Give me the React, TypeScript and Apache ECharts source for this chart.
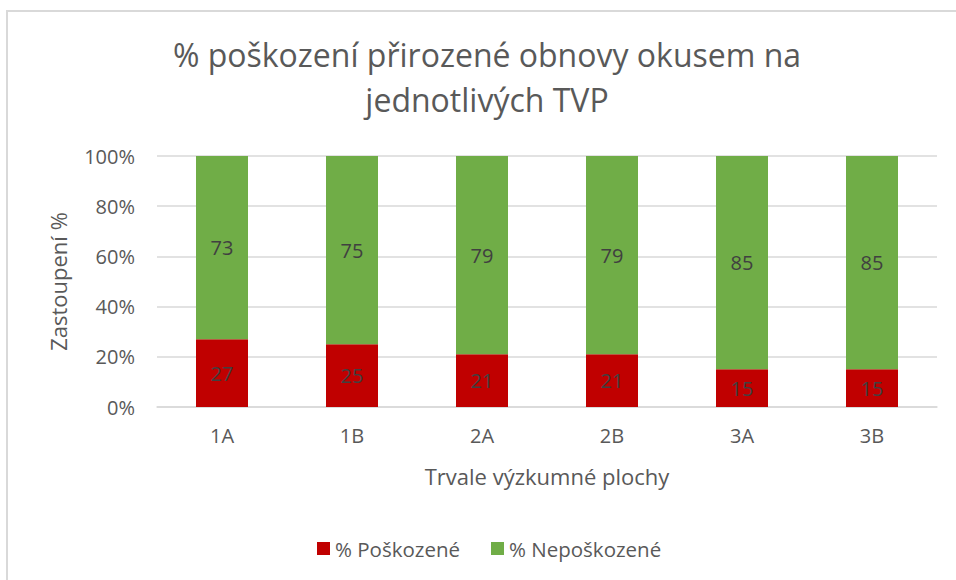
import React, { useEffect, useRef } from "react";
import * as echarts from "echarts";

const categories = ["1A", "1B", "2A", "2B", "3A", "3B"];
const damaged = [27, 25, 21, 21, 15, 15];
const undamaged = [73, 75, 79, 79, 85, 85];
const seriesNames = ["% Poškozené", "% Nepoškozené"];
const titleText = "% poškození přirozené obnovy okusem na\njednotlivých TVP";
const yAxisName = "Zastoupení %";
const xAxisName = "Trvale výzkumné plochy";

const FONT = "'Open Sans', sans-serif";

export default function App() {
  const ref = useRef<HTMLDivElement>(null);
  useEffect(() => {
    if (!ref.current) return;
    const chart = echarts.init(ref.current, undefined, { renderer: "svg" });
    const label = {
      show: true,
      position: "inside",
      color: "#404040",
      fontSize: 20,
      fontFamily: FONT,
    };
    chart.setOption({
      animation: false,
      backgroundColor: "#ffffff",
      graphic: [
        {
          type: "rect",
          shape: { x: 7, y: 11, width: 1000, height: 600 },
          style: { fill: "none", stroke: "#D9D9D9", lineWidth: 2 },
          silent: true,
        },
      ],
      title: {
        text: titleText,
        left: 482,
        top: 27,
        textAlign: "center",
        textStyle: {
          fontFamily: FONT,
          fontSize: 32,
          fontWeight: "normal",
          color: "#595959",
          lineHeight: 45,
        },
      },
      legend: {
        bottom: 16,
        left: 312,
        itemWidth: 13,
        itemHeight: 13,
        itemGap: 31,
        icon: "rect",
        textStyle: { fontFamily: FONT, fontSize: 20.5, color: "#595959" },
        data: seriesNames,
      },
      grid: { left: 157, right: 19, top: 156, bottom: 173 },
      xAxis: {
        type: "category",
        data: categories,
        name: xAxisName,
        nameLocation: "middle",
        nameGap: 58,
        nameTextStyle: { fontFamily: FONT, fontSize: 22, color: "#595959" },
        axisLine: { lineStyle: { color: "#D9D9D9", width: 1.5 } },
        axisTick: { show: false },
        axisLabel: { fontFamily: FONT, fontSize: 20, color: "#595959", margin: 18 },
      },
      yAxis: {
        type: "value",
        min: 0,
        max: 100,
        interval: 20,
        name: yAxisName,
        nameLocation: "middle",
        nameGap: 88,
        nameTextStyle: { fontFamily: FONT, fontSize: 22, color: "#595959" },
        axisLine: { show: false },
        axisTick: { show: false },
        axisLabel: {
          fontFamily: FONT,
          fontSize: 20,
          color: "#595959",
          margin: 22,
          formatter: "{value}%",
        },
        splitLine: { lineStyle: { color: "#D9D9D9", width: 1.5 } },
      },
      series: [
        {
          name: seriesNames[0],
          type: "bar",
          stack: "total",
          data: damaged,
          barWidth: "40%",
          itemStyle: { color: "#C00000" },
          label,
        },
        {
          name: seriesNames[1],
          type: "bar",
          stack: "total",
          data: undamaged,
          barWidth: "40%",
          itemStyle: { color: "#70AD47" },
          label,
        },
      ],
    });
    return () => chart.dispose();
  }, []);
  return (
    <div
      ref={ref}
      style={{ position: "fixed", left: 0, top: 0, width: 956, height: 580 }}
    />
  );
}
